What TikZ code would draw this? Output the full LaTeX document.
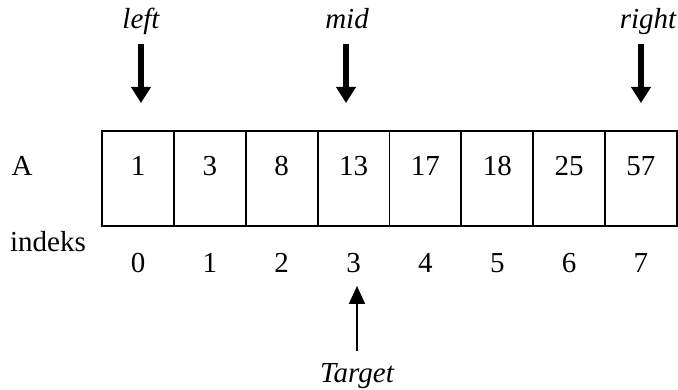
\documentclass[tikz,border=0pt]{standalone}
\usepackage{fontspec}
\setmainfont{Liberation Serif}
\usetikzlibrary{arrows.meta}
\tikzset{
  cell/.style={draw, line width=1.6pt, minimum width=72pt, minimum height=95pt, inner sep=0pt},
  txt/.style={inner sep=0pt, anchor=base, font=\fontsize{29}{33}\selectfont},
  itxt/.style={txt, font=\fontsize{29}{33}\selectfont\itshape},
  bigarrow/.style={line width=6pt, -{Triangle[width=19pt,length=16pt]}},
  thinarrow/.style={line width=2pt, -{Triangle[width=16pt,length=18pt]}}
}
\begin{document}
\begin{tikzpicture}[x=1pt,y=-1pt]
\useasboundingbox (0,0) rectangle (678,390);
% cells
\foreach \i/\v in {0/1,1/3,2/8,3/13,4/17,5/18,6/25,7/57}{
  \node[cell] (c\i) at ({138+71.85*\i},178.5) {};
  \node[txt] (v\i) at ({138+71.85*\i},176) {\v};
  \node[txt] (x\i) at ({138+71.85*\i},273) {\i};
}
\node[txt] (A) at (22,176) {A};
\node[txt] (ind) at (48,252) {indeks};
% pointer labels
\node[itxt] (left) at (141,29) {left};
\node[itxt] (mid) at (347,29) {mid};
\node[itxt] (right) at (648,29) {right};
\coordinate (ls) at (141,44);
\coordinate (le) at (141,103);
\coordinate (ms) at (346,44);
\coordinate (me) at (346,103);
\coordinate (rs) at (641,44);
\coordinate (re) at (641,103);
\draw[bigarrow] (ls) -- (le);
\draw[bigarrow] (ms) -- (me);
\draw[bigarrow] (rs) -- (re);
% target
\node[itxt] (target) at (357,382) {Target};
\coordinate (ts) at (357,351);
\coordinate (te) at (357,286);
\draw[thinarrow] (ts) -- (te);
\end{tikzpicture}
\end{document}
